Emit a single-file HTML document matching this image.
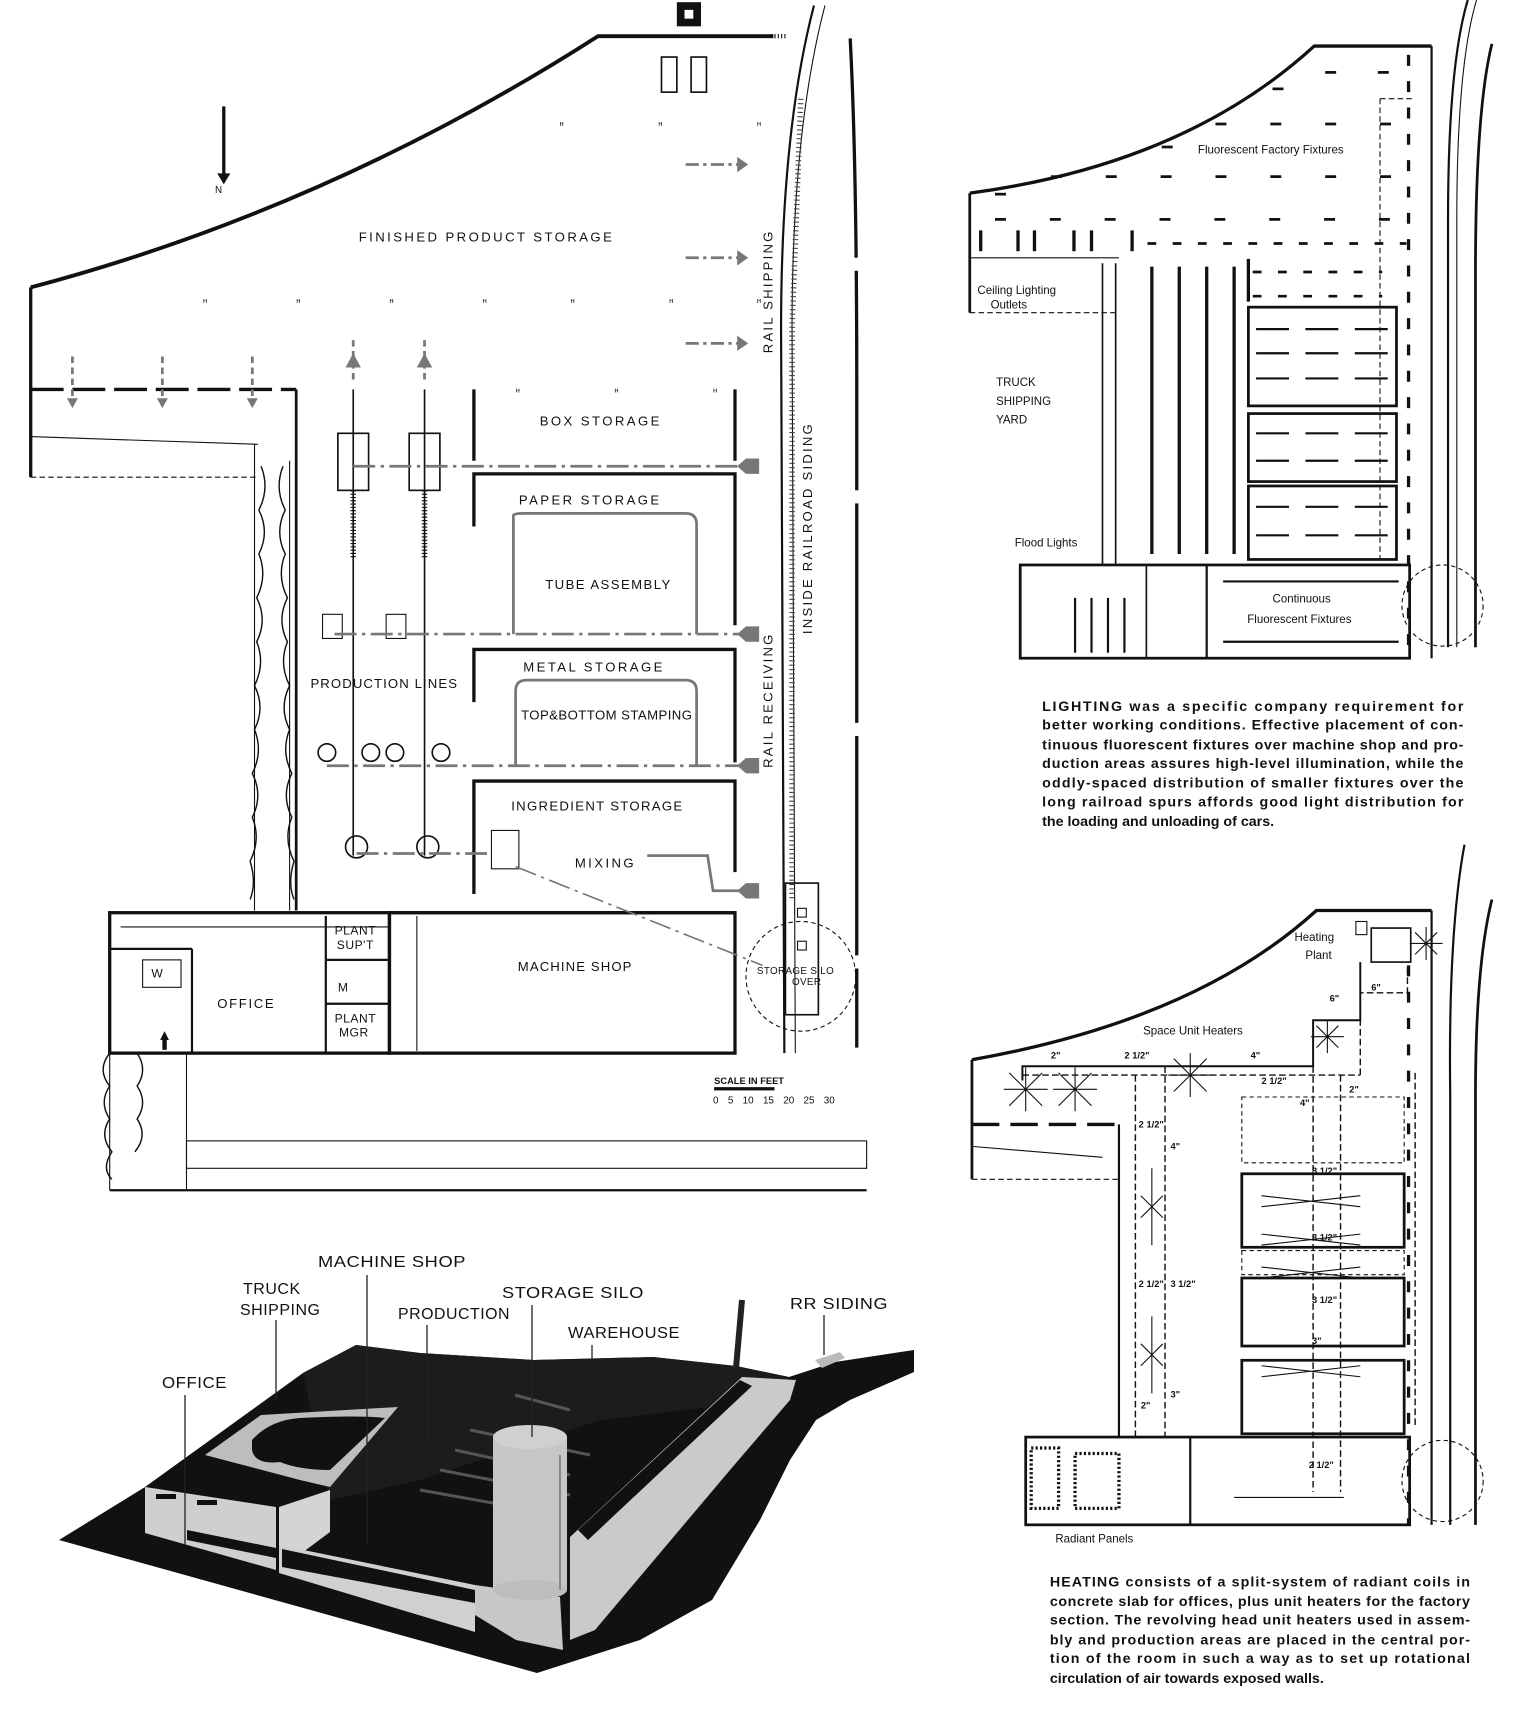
<!DOCTYPE html>
<html><head><meta charset="utf-8"><style>
html,body{margin:0;padding:0;background:#fff;}
svg{display:block;}
text{font-family:"Liberation Sans",sans-serif;fill:#111;}
</style></head><body>
<svg width="1514" height="1727" viewBox="0 0 1514 1727" xmlns="http://www.w3.org/2000/svg">
<rect width="1514" height="1727" fill="#fff"/>

<!-- ===== MODEL PHOTO (actual px coords) ===== -->
<g>
<polygon points="59,1540 145,1487 303,1373 356,1345 420,1353 534,1360 653,1357 736,1366 789,1377 835,1362 914,1350 914,1372 850,1400 816,1420 790,1460 760,1520 712,1600 640,1640 537,1673" fill="#111"/>
<polygon points="356,1345 420,1353 534,1360 653,1357 736,1366 789,1377 770,1400 600,1420 420,1480 330,1500 303,1373" fill="#1c1c1c"/>
<polygon points="205,1455 261,1415 398,1407 330,1487 300,1480" fill="#bdbdbd"/>
<path d="M252,1440 Q270,1420 300,1418 Q360,1415 385,1418 L330,1470 Q300,1470 280,1462 Q255,1465 252,1450 Z" fill="#111"/>
<polygon points="145,1487 276,1507 276,1570 145,1533" fill="#cfcfcf"/>
<polygon points="279,1507 330,1490 330,1532 279,1570" fill="#d4d4d4"/>
<rect x="156" y="1494" width="20" height="5" fill="#111"/>
<rect x="197" y="1500" width="20" height="5" fill="#111"/>
<polygon points="187,1530 276,1548 276,1558 187,1540" fill="#111"/>
<polygon points="279,1545 475,1585 475,1632 279,1573" fill="#d0d0d0"/>
<polygon points="282,1549 475,1590 475,1603 282,1567" fill="#111"/>
<polygon points="475,1585 560,1597 563,1650 516,1640 475,1615" fill="#c8c8c8"/>
<polygon points="570,1537 742,1377 796,1380 790,1400 730,1470 595,1630 570,1640" fill="#cacaca"/>
<polygon points="578,1530 740,1380 752,1386 588,1540" fill="#111"/>
<g stroke="#555" stroke-width="3">
<line x1="515" y1="1395" x2="570" y2="1410"/>
<line x1="470" y1="1430" x2="590" y2="1455"/>
<line x1="455" y1="1450" x2="570" y2="1475"/>
<line x1="440" y1="1470" x2="570" y2="1495"/>
<line x1="420" y1="1490" x2="560" y2="1515"/>
</g>
<rect x="493" y="1437" width="74" height="153" fill="#c6c6c6"/>
<ellipse cx="530" cy="1437" rx="37" ry="12" fill="#d0d0d0"/>
<ellipse cx="530" cy="1590" rx="37" ry="10" fill="#bdbdbd"/>
<line x1="560" y1="1455" x2="560" y2="1590" stroke="#888" stroke-width="2"/>
<line x1="742" y1="1300" x2="736" y2="1368" stroke="#222" stroke-width="6"/>
<polygon points="815,1360 840,1352 845,1358 822,1368" fill="#bbb"/>
<g font-size="16" letter-spacing="0.5">
<text x="318" y="1267" textLength="148" lengthAdjust="spacingAndGlyphs">MACHINE SHOP</text>
<text x="243" y="1294">TRUCK</text>
<text x="240" y="1315">SHIPPING</text>
<text x="398" y="1319" textLength="112" lengthAdjust="spacingAndGlyphs">PRODUCTION</text>
<text x="502" y="1298" textLength="142" lengthAdjust="spacingAndGlyphs">STORAGE SILO</text>
<text x="568" y="1338" textLength="112" lengthAdjust="spacingAndGlyphs">WAREHOUSE</text>
<text x="790" y="1309" textLength="98" lengthAdjust="spacingAndGlyphs">RR SIDING</text>
<text x="162" y="1388" textLength="65" lengthAdjust="spacingAndGlyphs">OFFICE</text>
</g>
<g stroke="#222" stroke-width="1.3">
<line x1="367" y1="1275" x2="367" y2="1545"/>
<line x1="276" y1="1320" x2="276" y2="1400"/>
<line x1="427" y1="1325" x2="427" y2="1440"/>
<line x1="532" y1="1305" x2="532" y2="1437"/>
<line x1="592" y1="1345" x2="592" y2="1412"/>
<line x1="824" y1="1315" x2="824" y2="1355"/>
<line x1="185" y1="1395" x2="185" y2="1545"/>
</g>
</g>

<g transform="scale(1.097)">
<!-- LEFT MAIN PLAN -->
<g fill="none" stroke="#111">
<path d="M28,262 Q300,190 545,33 L705,33" stroke-width="3.5"/>
<line x1="28" y1="262" x2="28" y2="435" stroke-width="3"/>
<line x1="28" y1="355" x2="270" y2="355" stroke-width="3" stroke-dasharray="30,8"/>
<line x1="28" y1="398" x2="235" y2="405" stroke-width="1"/>
<line x1="28" y1="435" x2="235" y2="435" stroke-width="1" stroke-dasharray="5,3"/>
<line x1="270" y1="355" x2="270" y2="830" stroke-width="2.5"/>
<line x1="232" y1="405" x2="232" y2="830" stroke-width="1"/>
<line x1="264" y1="420" x2="264" y2="830" stroke-width="1"/>
<path d="M238,425 q8,20 -2,40 q10,20 0,40 q8,20 -2,40 q10,20 0,40 q8,20 -2,40 q10,20 0,40 q8,20 -2,40 q10,20 0,40 q8,20 -2,40 q6,20 0,35" stroke-width="1.3"/>
<path d="M258,425 q-8,20 2,40 q-10,20 0,40 q-8,20 2,40 q-10,20 0,40 q-8,20 2,40 q-10,20 0,40 q-8,20 2,40 q-10,20 0,40 q-8,20 2,40 q-6,20 0,35" stroke-width="1.3"/>
<path d="M742,5 Q712,120 712,300 L715,960" stroke-width="2"/>
<path d="M752,5 Q722,120 722,300 L725,960" stroke-width="1"/>
<path d="M730,90 L722,300 L722,820" stroke-width="5" stroke-dasharray="1,3" stroke="#444"/>
<path d="M775,35 Q781,150 781,350 L781,955" stroke-width="3" stroke-dasharray="200,12"/>
<line x1="703" y1="33" x2="716" y2="33" stroke-width="4" stroke-dasharray="1,2"/>
<line x1="432" y1="355" x2="432" y2="420" stroke-width="3"/>
<line x1="670" y1="355" x2="670" y2="420" stroke-width="3"/>
<polyline points="432,480 432,432 670,432 670,570" stroke-width="3"/>
<polyline points="432,640 432,592 670,592 670,695" stroke-width="3"/>
<polyline points="432,815 432,712 670,712 670,795" stroke-width="3"/>
<rect x="100" y="832" width="255" height="128" stroke-width="3"/>
<rect x="355" y="832" width="315" height="128" stroke-width="3"/>
<line x1="380" y1="835" x2="380" y2="958" stroke-width="1"/>
<line x1="110" y1="845" x2="355" y2="845" stroke-width="1"/>
<line x1="100" y1="865" x2="175" y2="865" stroke-width="2"/>
<line x1="175" y1="865" x2="175" y2="960" stroke-width="2"/>
<line x1="297" y1="835" x2="297" y2="960" stroke-width="2"/>
<line x1="297" y1="875" x2="355" y2="875" stroke-width="2"/>
<line x1="297" y1="915" x2="355" y2="915" stroke-width="2"/>
<rect x="130" y="875" width="35" height="25" stroke-width="1"/>
<line x1="355" y1="832" x2="670" y2="832" stroke-width="3"/>
<line x1="100" y1="960" x2="100" y2="1085" stroke-width="1"/>
<line x1="170" y1="960" x2="170" y2="1085" stroke-width="1"/>
<line x1="100" y1="1085" x2="790" y2="1085" stroke-width="2"/>
<rect x="170" y="1040" width="620" height="25" stroke-width="1"/>
<path d="M100,960 q-12,15 0,30 q-10,15 0,30 q-10,15 2,30 q-10,15 0,25" stroke-width="1.3"/>
<path d="M125,960 q10,15 0,30 q10,15 0,30 q10,15 -2,30" stroke-width="1.3"/>
<line x1="322" y1="355" x2="322" y2="780" stroke-width="1.5"/>
<line x1="387" y1="355" x2="387" y2="780" stroke-width="1.5"/>
<rect x="308" y="395" width="28" height="52" stroke-width="1.5"/>
<rect x="373" y="395" width="28" height="52" stroke-width="1.5"/>
<line x1="322" y1="447" x2="322" y2="510" stroke-width="5" stroke-dasharray="1,2"/>
<line x1="387" y1="447" x2="387" y2="510" stroke-width="5" stroke-dasharray="1,2"/>
<rect x="294" y="560" width="18" height="22" stroke-width="1"/>
<rect x="352" y="560" width="18" height="22" stroke-width="1"/>
<circle cx="298" cy="686" r="8" stroke-width="1.5"/><circle cx="338" cy="686" r="8" stroke-width="1.5"/>
<circle cx="360" cy="686" r="8" stroke-width="1.5"/><circle cx="402" cy="686" r="8" stroke-width="1.5"/>
<circle cx="325" cy="772" r="10" stroke-width="1.5"/><circle cx="390" cy="772" r="10" stroke-width="1.5"/>
<rect x="448" y="757" width="25" height="35" stroke-width="1"/>
<g stroke="#777" stroke-width="2.5">
<line x1="322" y1="425" x2="680" y2="425" stroke-dasharray="20,5,3,5"/>
<line x1="305" y1="578" x2="680" y2="578" stroke-dasharray="20,5,3,5"/>
<line x1="298" y1="698" x2="680" y2="698" stroke-dasharray="20,5,3,5"/>
<line x1="325" y1="778" x2="448" y2="778" stroke-dasharray="20,5,3,5"/>
<path d="M468,578 L468,470 Q468,468 478,468 L625,468 Q635,468 635,478 L635,578"/>
<path d="M470,698 L470,630 Q470,620 480,620 L625,620 Q635,620 635,630 L635,698"/>
<path d="M590,780 L645,780 L650,812 L680,812"/>
<line x1="470" y1="790" x2="695" y2="880" stroke-dasharray="20,5,3,5" stroke-width="1.5"/>
<line x1="625" y1="150" x2="675" y2="150" stroke-dasharray="12,4,3,4"/>
<line x1="625" y1="235" x2="675" y2="235" stroke-dasharray="12,4,3,4"/>
<line x1="625" y1="313" x2="675" y2="313" stroke-dasharray="12,4,3,4"/>
<line x1="66" y1="325" x2="66" y2="365" stroke-dasharray="6,4"/>
<line x1="148" y1="325" x2="148" y2="365" stroke-dasharray="6,4"/>
<line x1="230" y1="325" x2="230" y2="365" stroke-dasharray="6,4"/>
<line x1="322" y1="310" x2="322" y2="350" stroke-dasharray="6,4"/>
<line x1="387" y1="310" x2="387" y2="350" stroke-dasharray="6,4"/>
</g>
<circle cx="730" cy="890" r="50" stroke-width="1" stroke-dasharray="4,3"/>
<rect x="716" y="805" width="30" height="120" stroke-width="1.5"/>
<rect x="727" y="828" width="8" height="8" stroke-width="1"/>
<rect x="727" y="858" width="8" height="8" stroke-width="1"/>
<line x1="204" y1="97" x2="204" y2="160" stroke-width="3"/>
</g>
<polygon points="198,158 210,158 204,168" fill="#111"/>
<g fill="#777">
<polygon points="672,143 682,150 672,157"/><polygon points="672,228 682,235 672,242"/><polygon points="672,306 682,313 672,320"/>
<polygon points="680,418 692,418 692,432 680,432 672,425"/>
<polygon points="680,571 692,571 692,585 680,585 672,578"/>
<polygon points="680,691 692,691 692,705 680,705 672,698"/>
<polygon points="680,805 692,805 692,819 680,819 672,812"/>
<polygon points="315,335 322,322 329,335"/><polygon points="380,335 387,322 394,335"/>
<polygon points="61,363 71,363 66,372"/><polygon points="143,363 153,363 148,372"/><polygon points="225,363 235,363 230,372"/>
</g>
<rect x="617" y="2" width="22" height="22" fill="#111"/><rect x="624" y="9" width="8" height="8" fill="#fff"/>
<rect x="603" y="52" width="14" height="32" fill="none" stroke="#111" stroke-width="1.5"/>
<rect x="630" y="52" width="14" height="32" fill="none" stroke="#111" stroke-width="1.5"/>
<polygon points="146,948 154,948 150,940" fill="#111"/><rect x="148" y="947" width="4" height="10" fill="#111"/>
<g font-size="7" fill="#333">
<text x="510" y="115">н</text><text x="600" y="115">н</text><text x="690" y="115">н</text>
<text x="185" y="276">н</text><text x="270" y="276">н</text><text x="355" y="276">н</text><text x="440" y="276">н</text><text x="520" y="276">н</text><text x="610" y="276">н</text><text x="690" y="276">н</text>
<text x="470" y="358">н</text><text x="560" y="358">н</text><text x="650" y="358">н</text>
</g>
<g font-size="12" letter-spacing="2.2">
<text x="327" y="220">FINISHED  PRODUCT  STORAGE</text>
<text x="492" y="388">BOX  STORAGE</text>
<text x="473" y="460">PAPER  STORAGE</text>
<text x="497" y="537" letter-spacing="1.3">TUBE ASSEMBLY</text>
<text x="477" y="612">METAL  STORAGE</text>
<text x="475" y="656" letter-spacing="0.4">TOP&amp;BOTTOM STAMPING</text>
<text x="466" y="739" letter-spacing="1.2">INGREDIENT STORAGE</text>
<text x="524" y="791">MIXING</text>
<text x="283" y="627" letter-spacing="1">PRODUCTION LINES</text>
<text x="472" y="885" letter-spacing="1">MACHINE SHOP</text>
<text x="198" y="919" letter-spacing="1.5">OFFICE</text>
<text x="305" y="852" font-size="11" letter-spacing="0.5">PLANT</text>
<text x="307" y="865" font-size="11" letter-spacing="0.5">SUP'T</text>
<text x="305" y="932" font-size="11" letter-spacing="0.5">PLANT</text>
<text x="309" y="945" font-size="11" letter-spacing="0.5">MGR</text>
<text x="138" y="891" font-size="11">W</text><text x="308" y="904" font-size="11">M</text>
<text x="690" y="888" font-size="9" letter-spacing="0.3">STORAGE SILO</text>
<text x="722" y="898" font-size="9" letter-spacing="0.3">OVER</text>
<text x="196" y="176" font-size="9">N</text>
<text transform="translate(704,322) rotate(-90)" letter-spacing="2">RAIL  SHIPPING</text>
<text transform="translate(704,700) rotate(-90)" letter-spacing="2">RAIL  RECEIVING</text>
<text transform="translate(740,578) rotate(-90)" letter-spacing="2">INSIDE RAILROAD SIDING</text>
</g>
<g font-size="8.5" font-weight="bold"><text x="651" y="988">SCALE IN FEET</text></g>
<rect x="651" y="991" width="55" height="3" fill="#111"/>
<g font-size="9"><text x="650" y="1006" word-spacing="6">0 5 10 15 20 25 30</text></g>

<!-- UPPER RIGHT PLAN -->
<g fill="none" stroke="#111">
<path d="M884,176 Q1080,150 1198,42 L1305,42" stroke-width="3"/>
<line x1="884" y1="176" x2="884" y2="285" stroke-width="2.5"/>
<line x1="884" y1="285" x2="1020" y2="285" stroke-width="1" stroke-dasharray="5,3"/>
<line x1="1005" y1="240" x2="1005" y2="515" stroke-width="1.5"/>
<line x1="1017" y1="240" x2="1017" y2="515" stroke-width="1.5"/>
<line x1="884" y1="235" x2="1020" y2="235" stroke-width="1"/>
<line x1="1305" y1="42" x2="1305" y2="600" stroke-width="2"/>
<line x1="1258" y1="90" x2="1258" y2="515" stroke-width="1" stroke-dasharray="5,3"/>
<line x1="1258" y1="90" x2="1290" y2="90" stroke-width="1" stroke-dasharray="5,3"/>
<line x1="1284" y1="50" x2="1284" y2="600" stroke-width="3" stroke-dasharray="10,14"/>
<path d="M1338,0 Q1320,60 1320,200 L1320,590" stroke-width="2"/>
<path d="M1346,0 Q1328,60 1328,200 L1328,590" stroke-width="1"/>
<path d="M1360,40 Q1345,100 1345,250 L1345,590" stroke-width="2.5"/>
<g stroke-width="2.5">
<line x1="1208" y1="66" x2="1218" y2="66"/><line x1="1256" y1="66" x2="1266" y2="66"/>
<line x1="1160" y1="81" x2="1170" y2="81"/>
<g stroke-dasharray="10,40"><line x1="1108" y1="113" x2="1270" y2="113"/><line x1="958" y1="161" x2="1270" y2="161"/><line x1="907" y1="200" x2="1270" y2="200"/></g>
<line x1="1059" y1="134" x2="1069" y2="134"/><line x1="907" y1="177" x2="917" y2="177"/>
<line x1="1046" y1="222" x2="1282" y2="222" stroke-dasharray="8,15"/>
<line x1="1142" y1="248" x2="1260" y2="248" stroke-dasharray="8,15"/><line x1="1142" y1="270" x2="1260" y2="270" stroke-dasharray="8,15"/>
</g>
<g stroke-width="3"><line x1="894" y1="210" x2="894" y2="229"/><line x1="928" y1="210" x2="928" y2="229"/><line x1="943" y1="210" x2="943" y2="229"/><line x1="979" y1="210" x2="979" y2="229"/><line x1="995" y1="210" x2="995" y2="229"/><line x1="1032" y1="210" x2="1032" y2="229"/></g>
<g stroke-width="3"><line x1="1050" y1="243" x2="1050" y2="505"/><line x1="1075" y1="243" x2="1075" y2="505"/><line x1="1100" y1="243" x2="1100" y2="505"/><line x1="1125" y1="243" x2="1125" y2="505"/><line x1="1138" y1="236" x2="1138" y2="275"/></g>
<rect x="1138" y="280" width="135" height="90" stroke-width="2.5"/>
<rect x="1138" y="377" width="135" height="62" stroke-width="2.5"/>
<rect x="1138" y="443" width="135" height="67" stroke-width="2.5"/>
<g stroke-width="2" stroke-dasharray="30,15">
<line x1="1145" y1="300" x2="1270" y2="300"/><line x1="1145" y1="322" x2="1270" y2="322"/><line x1="1145" y1="345" x2="1270" y2="345"/>
<line x1="1145" y1="395" x2="1270" y2="395"/><line x1="1145" y1="420" x2="1270" y2="420"/>
<line x1="1145" y1="462" x2="1270" y2="462"/><line x1="1145" y1="488" x2="1270" y2="488"/>
</g>
<rect x="930" y="515" width="355" height="85" stroke-width="2.5"/>
<line x1="1100" y1="515" x2="1100" y2="600" stroke-width="2"/>
<line x1="1115" y1="530" x2="1275" y2="530" stroke-width="2"/><line x1="1115" y1="585" x2="1275" y2="585" stroke-width="2"/>
<line x1="1045" y1="515" x2="1045" y2="600" stroke-width="1.5"/>
<g stroke-width="2"><line x1="980" y1="545" x2="980" y2="595"/><line x1="995" y1="545" x2="995" y2="595"/><line x1="1010" y1="545" x2="1010" y2="595"/><line x1="1025" y1="545" x2="1025" y2="595"/></g>
<circle cx="1315" cy="552" r="37" stroke-width="1" stroke-dasharray="4,3"/>
</g>
<g font-size="10.5">
<text x="1092" y="140">Fluorescent   Factory   Fixtures</text>
<text x="891" y="268">Ceiling   Lighting</text><text x="903" y="281">Outlets</text>
<text x="908" y="352">TRUCK</text><text x="908" y="369">SHIPPING</text><text x="908" y="386">YARD</text>
<text x="925" y="498">Flood   Lights</text>
<text x="1160" y="549">Continuous</text>
<text x="1137" y="568">Fluorescent   Fixtures</text>
</g>
<g font-size="13" font-weight="bold">
<text x="950" y="648" textLength="384" lengthAdjust="spacing">LIGHTING was a specific company requirement for</text>
<text x="950" y="665" textLength="384" lengthAdjust="spacing">better working conditions. Effective placement of con-</text>
<text x="950" y="683" textLength="384" lengthAdjust="spacing">tinuous fluorescent fixtures over machine shop and pro-</text>
<text x="950" y="700" textLength="384" lengthAdjust="spacing">duction areas assures high-level illumination, while the</text>
<text x="950" y="718" textLength="384" lengthAdjust="spacing">oddly-spaced distribution of smaller fixtures over the</text>
<text x="950" y="735" textLength="384" lengthAdjust="spacing">long railroad spurs affords good light distribution for</text>
<text x="950" y="753">the loading and unloading of cars.</text>
<text x="957" y="1446" textLength="383" lengthAdjust="spacing">HEATING consists of a split-system of radiant coils in</text>
<text x="957" y="1464" textLength="383" lengthAdjust="spacing">concrete slab for offices, plus unit heaters for the factory</text>
<text x="957" y="1481" textLength="383" lengthAdjust="spacing">section. The revolving head unit heaters used in assem-</text>
<text x="957" y="1499" textLength="383" lengthAdjust="spacing">bly and production areas are placed in the central por-</text>
<text x="957" y="1516" textLength="383" lengthAdjust="spacing">tion of the room in such a way as to set up rotational</text>
<text x="957" y="1534">circulation of air towards exposed walls.</text>
</g>

<!-- LOWER RIGHT PLAN -->
<g fill="none" stroke="#111">
<path d="M886,966 Q1090,930 1200,830 L1305,830" stroke-width="3"/>
<line x1="886" y1="966" x2="886" y2="1075" stroke-width="2.5"/>
<line x1="886" y1="1025" x2="1020" y2="1025" stroke-width="3" stroke-dasharray="25,10"/>
<line x1="886" y1="1075" x2="1020" y2="1075" stroke-width="1" stroke-dasharray="5,3"/>
<line x1="886" y1="1045" x2="1005" y2="1055" stroke-width="1"/>
<line x1="1020" y1="1025" x2="1020" y2="1310" stroke-width="2"/>
<line x1="1305" y1="830" x2="1305" y2="1390" stroke-width="2"/>
<line x1="1284" y1="880" x2="1284" y2="1390" stroke-width="3" stroke-dasharray="10,14"/>
<path d="M1335,770 Q1320,850 1322,1000 L1322,1390" stroke-width="2"/>
<path d="M1360,820 Q1345,880 1345,1000 L1345,1390" stroke-width="2.5"/>
<rect x="1132" y="1070" width="148" height="67" stroke-width="2.5"/>
<rect x="1132" y="1165" width="148" height="62" stroke-width="2.5"/>
<rect x="1132" y="1240" width="148" height="67" stroke-width="2.5"/>
<rect x="1132" y="1000" width="148" height="60" stroke-width="1" stroke-dasharray="4,3"/>
<rect x="1132" y="1140" width="148" height="22" stroke-width="1" stroke-dasharray="4,3"/>
<rect x="935" y="1310" width="350" height="80" stroke-width="2.5"/>
<line x1="1085" y1="1310" x2="1085" y2="1390" stroke-width="2"/>
<rect x="940" y="1320" width="25" height="55" stroke-width="3" stroke-dasharray="2,2"/>
<rect x="980" y="1325" width="40" height="50" stroke-width="3" stroke-dasharray="2,2"/>
<circle cx="1315" cy="1350" r="37" stroke-width="1" stroke-dasharray="4,3"/>
<polyline points="932,985 932,972 1197,972 1197,930 1240,930 1240,877" stroke-width="1.8"/>
<g stroke-width="1.3" stroke-dasharray="6,3">
<line x1="932" y1="980" x2="1240" y2="980"/>
<polyline points="1240,980 1240,905 1283,905 1283,880"/>
<line x1="1035" y1="980" x2="1035" y2="1310"/><line x1="1062" y1="972" x2="1062" y2="1310"/>
<line x1="1197" y1="972" x2="1197" y2="1360"/>
<line x1="1222" y1="980" x2="1222" y2="1360"/><line x1="1290" y1="978" x2="1290" y2="1300"/>
</g>
<rect x="1250" y="846" width="36" height="31" stroke-width="1.5"/>
<rect x="1236" y="840" width="10" height="12" stroke-width="1"/>
</g>
<g stroke="#111" stroke-width="1">
<path d="M920,978 l30,30 m-30,0 l30,-30 m-15,-5 v40 m-20,-20 h40"/>
<path d="M965,978 l30,30 m-30,0 l30,-30 m-15,-5 v40 m-20,-20 h40"/>
<path d="M1070,965 l30,30 m-30,0 l30,-30 m-15,-5 v40 m-20,-20 h40"/>
<path d="M1200,935 l20,20 m-20,0 l20,-20 m-10,-5 v30 m-15,-15 h30"/>
<path d="M1290,850 l20,20 m-20,0 l20,-20 m-10,-5 v30 m-15,-15 h30"/>
<path d="M1040,1090 l20,20 m-20,0 l20,-20 m-10,-25 v70"/>
<path d="M1040,1225 l20,20 m-20,0 l20,-20 m-10,-25 v70"/>
<path d="M1150,1090 l90,10 m-90,0 l90,-10"/><path d="M1150,1125 l90,10 m-90,0 l90,-10"/>
<path d="M1150,1155 l90,10 m-90,0 l90,-10"/><path d="M1150,1245 l90,10 m-90,0 l90,-10"/>
<path d="M1125,1365 l100,0"/>
</g>
<g font-size="10.5">
<text x="1180" y="858">Heating</text><text x="1190" y="874">Plant</text>
<text x="1042" y="943">Space   Unit   Heaters</text>
<text x="962" y="1406">Radiant   Panels</text>
</g>
<g font-size="8.5" font-weight="bold">
<text x="958" y="965">2"</text><text x="1025" y="965">2 1/2"</text><text x="1140" y="965">4"</text>
<text x="1150" y="988">2 1/2"</text><text x="1230" y="996">2"</text><text x="1185" y="1008">4"</text>
<text x="1038" y="1028">2 1/2"</text><text x="1067" y="1048">4"</text><text x="1196" y="1070">3 1/2"</text>
<text x="1196" y="1131">3 1/2"</text><text x="1196" y="1188">3 1/2"</text><text x="1196" y="1225">3"</text>
<text x="1038" y="1173">2 1/2"</text><text x="1067" y="1173">3 1/2"</text>
<text x="1040" y="1284">2"</text><text x="1067" y="1274">3"</text><text x="1193" y="1338">2 1/2"</text>
<text x="1212" y="913">6"</text><text x="1250" y="903">6"</text>
</g>
</g>
</svg>
</body></html>
